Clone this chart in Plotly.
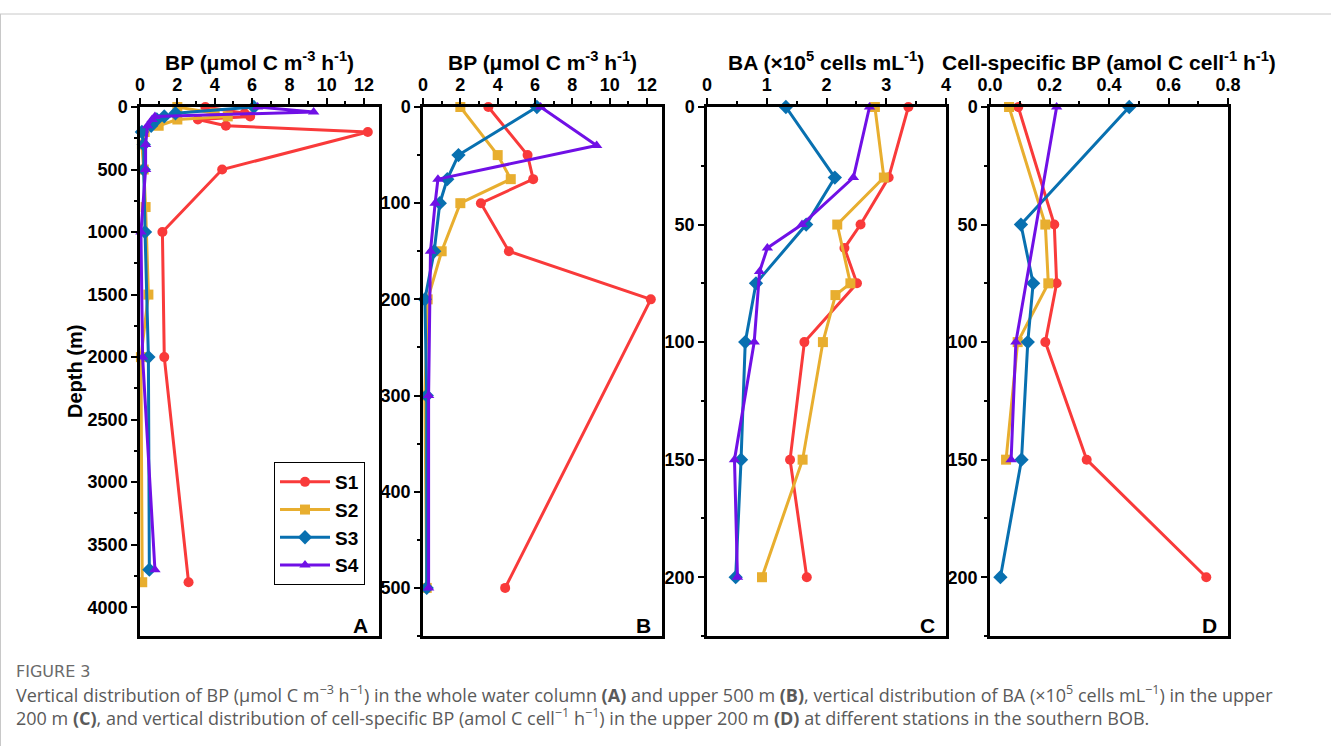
import plotly.graph_objects as go

W, H = 1331, 746

stations = ["S1", "S2", "S3", "S4"]
colors = ["#F93A3A", "#E8AE2F", "#0870B0", "#7010E6"]
symbols = ["circle", "square", "diamond", "triangle-up"]

# BP (umol C m-3 h-1), whole water column
bp_depth = {
    "S1": [0, 50, 75, 100, 150, 200, 500, 1000, 2000, 3800],
    "S2": [0, 50, 75, 100, 150, 200, 300, 500, 800, 1500, 2000, 3800],
    "S3": [0, 50, 75, 100, 150, 200, 300, 500, 1000, 2000, 3700],
    "S4": [0, 40, 75, 100, 150, 300, 500, 1000, 2000, 3700],
}
bp_value = {
    "S1": [3.5, 5.6, 5.9, 3.1, 4.6, 12.2, 4.4, 1.2, 1.3, 2.6],
    "S2": [2.0, 4.0, 4.7, 2.0, 1.0, 0.25, 0.1, 0.2, 0.3, 0.45, 0.05, 0.12],
    "S3": [6.1, 1.9, 1.3, 0.9, 0.6, 0.1, 0.2, 0.2, 0.27, 0.45, 0.5],
    "S4": [6.3, 9.3, 0.8, 0.65, 0.4, 0.3, 0.3, 0.05, 0.14, 0.8],
}

# BA (x10^5 cells mL-1), upper 200 m
ba_depth = {
    "S1": [0, 30, 50, 60, 75, 100, 150, 200],
    "S2": [0, 30, 50, 75, 80, 100, 150, 200],
    "S3": [0, 30, 50, 75, 100, 150, 200],
    "S4": [0, 30, 50, 60, 70, 100, 150, 200],
}
ba_value = {
    "S1": [3.37, 3.04, 2.57, 2.30, 2.51, 1.63, 1.39, 1.67],
    "S2": [2.81, 2.96, 2.18, 2.40, 2.15, 1.94, 1.60, 0.92],
    "S3": [1.32, 2.14, 1.66, 0.82, 0.64, 0.57, 0.48],
    "S4": [2.72, 2.45, 1.59, 1.01, 0.88, 0.79, 0.46, 0.51],
}

# Cell-specific BP (amol C cell-1 h-1), upper 200 m
cs_depth = {
    "S1": [0, 50, 75, 100, 150, 200],
    "S2": [0, 50, 75, 100, 150],
    "S3": [0, 50, 75, 100, 150, 200],
    "S4": [0, 100, 150],
}
cs_value = {
    "S1": [0.095, 0.216, 0.224, 0.186, 0.325, 0.727],
    "S2": [0.064, 0.186, 0.196, 0.093, 0.054],
    "S3": [0.468, 0.104, 0.145, 0.127, 0.106, 0.035],
    "S4": [0.224, 0.087, 0.071],
}

titles = [
    "<b>BP (μmol C m<sup>-3</sup> h<sup>-1</sup>)</b>",
    "<b>BP (μmol C m<sup>-3</sup> h<sup>-1</sup>)</b>",
    "<b>BA (×10<sup>5</sup> cells mL<sup>-1</sup>)</b>",
    "<b>Cell-specific BP (amol C cell<sup>-1</sup> h<sup>-1</sup>)</b>",
]
letters = ["A", "B", "C", "D"]

FONT = "Liberation Sans, Arial, sans-serif"
CAPFONT = "Open Sans, Liberation Sans, sans-serif"

# pixel boxes of panels
px_left = [140, 423, 707, 990]
px_right = [379, 662, 946, 1228]
px_top, px_bottom = 107, 636

xranges = [[0, 12.8], [0, 12.8], [0, 4], [0, 0.8]]
xdt = [2, 2, 1, 0.2]
xminor = [1, 1, 0.5, 0.1]
yranges = [[4230, 0], [550, 0], [225, 0], [225, 0]]
ydt = [500, 100, 50, 50]
yminor = [250, 50, 25, 25]

fig = go.Figure()

panels = [
    (bp_depth, bp_value),
    (bp_depth, bp_value),
    (ba_depth, ba_value),
    (cs_depth, cs_value),
]

for p, (dd, vv) in enumerate(panels):
    xa = "x" if p == 0 else f"x{p+1}"
    ya = "y" if p == 0 else f"y{p+1}"
    for i, s in enumerate(stations):
        depths = dd[s]
        vals = vv[s]
        if p == 1:
            pairs = [(d, v) for d, v in zip(depths, vals) if d <= 500]
            depths = [a for a, b in pairs]
            vals = [b for a, b in pairs]
        fig.add_trace(go.Scatter(
            x=vals, y=depths, xaxis=xa, yaxis=ya,
            mode="lines+markers", name=s,
            line=dict(color=colors[i], width=3),
            marker=dict(symbol=symbols[i], size=10 if symbols[i] != "diamond" else 11,
                        color=colors[i]),
            cliponaxis=False,
            showlegend=(p == 0),
            legendgroup=s,
        ))

layout = dict(
    width=W, height=H,
    margin=dict(l=0, r=0, t=0, b=0, autoexpand=False),
    paper_bgcolor="white", plot_bgcolor="white",
    font=dict(family=FONT, color="black"),
    showlegend=True,
    legend=dict(
        x=274 / W, y=1 - 462 / H, xanchor="left", yanchor="top",
        bordercolor="black", borderwidth=1, bgcolor="white",
        font=dict(family=FONT, size=19, weight="bold", color="black"),
        tracegroupgap=0, itemwidth=50,
    ),
)

ydom = [1 - px_bottom / H, 1 - px_top / H]
for p in range(4):
    xk = "xaxis" if p == 0 else f"xaxis{p+1}"
    yk = "yaxis" if p == 0 else f"yaxis{p+1}"
    xa_anchor = "y" if p == 0 else f"y{p+1}"
    ya_anchor = "x" if p == 0 else f"x{p+1}"
    layout[xk] = dict(
        domain=[px_left[p] / W, px_right[p] / W], anchor=xa_anchor,
        side="top", range=xranges[p], dtick=xdt[p], tick0=0,
        tickformat=".1f" if p == 3 else None, automargin=False,
        showgrid=False, zeroline=False,
        showline=True, linecolor="black", linewidth=2.5, mirror=True,
        ticks="outside", ticklen=6, tickwidth=2, tickcolor="black",
        tickfont=dict(family=FONT, size=18, weight="bold", color="black"),
        minor=dict(dtick=xminor[p], ticks="outside", ticklen=3, tickwidth=1.5,
                   tickcolor="black", showgrid=False),
    )
    layout[yk] = dict(
        domain=ydom, anchor=ya_anchor, automargin=False,
        range=yranges[p], dtick=ydt[p], tick0=0,
        showgrid=False, zeroline=False,
        showline=True, linecolor="black", linewidth=2.5, mirror=True,
        ticks="outside", ticklen=6, tickwidth=2, tickcolor="black",
        tickfont=dict(family=FONT, size=18, weight="bold", color="black"),
        minor=dict(dtick=yminor[p], ticks="outside", ticklen=3, tickwidth=1.5,
                   tickcolor="black", showgrid=False),
    )

fig.update_layout(**layout)

annotations = []
for p in range(4):
    cx = (px_left[p] + px_right[p]) / 2
    annotations.append(dict(
        text=titles[p], x=cx / W, y=1 - 61 / H, xref="paper", yref="paper",
        xanchor="center", yanchor="middle", showarrow=False,
        font=dict(family=FONT, size=21, color="black"),
    ))
    annotations.append(dict(
        text=f"<b>{letters[p]}</b>", x=(px_right[p] - 9) / W, y=1 - 625 / H,
        xref="paper", yref="paper", xanchor="right", yanchor="middle",
        showarrow=False, font=dict(family=FONT, size=21, color="black"),
    ))

annotations.append(dict(
    text="<b>Depth (m)</b>", x=75 / W, y=1 - 372 / H, xref="paper", yref="paper",
    xanchor="center", yanchor="middle", textangle=-90, showarrow=False,
    font=dict(family=FONT, size=20, color="black"),
))

cap_color = "#5a5a5a"
annotations.append(dict(
    text="FIGURE 3", x=14 / W, y=1 - 671 / H, xref="paper", yref="paper",
    xanchor="left", yanchor="middle", showarrow=False,
    font=dict(family="DejaVu Sans, sans-serif", size=16, color="#6a6a6a"),
))
caption = ("Vertical distribution of BP (μmol C m<sup>−3</sup> h<sup>−1</sup>) in the whole water column "
           "<b>(A)</b> and upper 500 m <b>(B)</b>, vertical distribution of BA (×10<sup>5</sup> cells "
           "mL<sup>−1</sup>) in the upper<br>"
           "200 m <b>(C)</b>, and vertical distribution of cell-specific BP (amol C cell<sup>−1</sup> "
           "h<sup>−1</sup>) in the upper 200 m <b>(D)</b> at different stations in the southern BOB.")
annotations.append(dict(
    text=caption, x=14 / W, y=1 - 705 / H, xref="paper", yref="paper",
    xanchor="left", yanchor="middle", align="left", showarrow=False,
    font=dict(family=CAPFONT, size=18, color=cap_color),
))

fig.update_layout(annotations=annotations)

fig.update_layout(shapes=[
    dict(type="line", xref="paper", yref="paper", x0=0, x1=1,
         y0=1 - 14 / H, y1=1 - 14 / H, line=dict(color="#c8c8c8", width=1)),
    dict(type="line", xref="paper", yref="paper", x0=0.5 / W, x1=0.5 / W,
         y0=0, y1=1 - 14 / H, line=dict(color="#c8c8c8", width=1)),
])

fig.write_html("out.html")
